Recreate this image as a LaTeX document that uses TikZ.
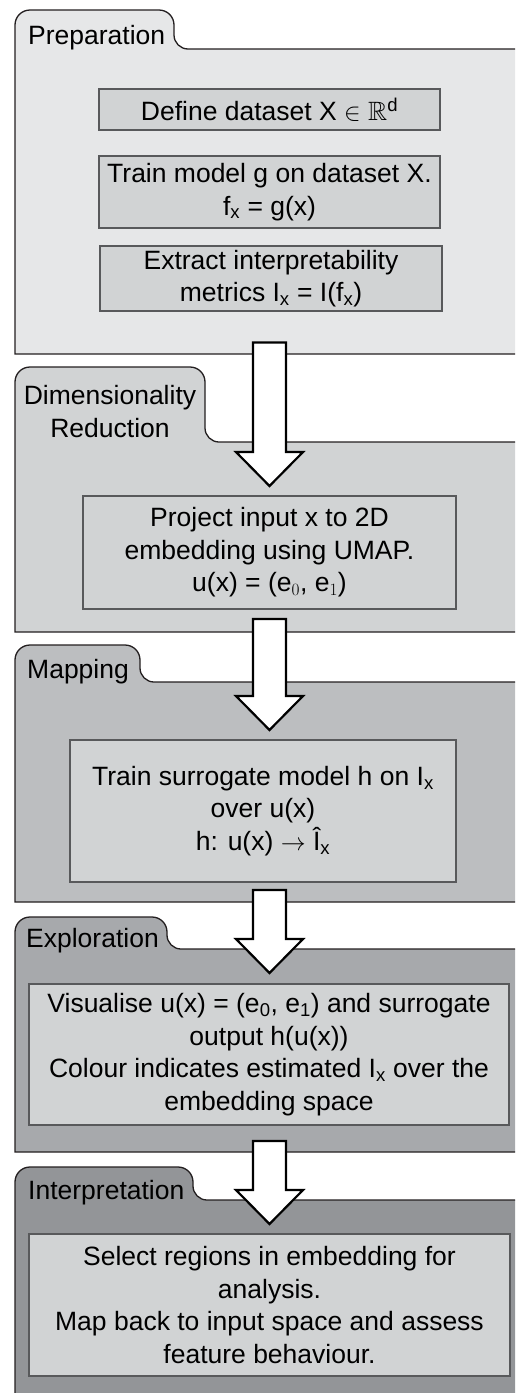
\documentclass[tikz,border=0pt]{standalone}
\usepackage{amssymb}
\usepackage{fontspec}
\setmainfont{Liberation Sans}
\usetikzlibrary{calc}
\definecolor{pA}{HTML}{E6E7E8}
\definecolor{pB}{HTML}{D1D3D4}
\definecolor{pC}{HTML}{BCBEC0}
\definecolor{pD}{HTML}{A7A9AC}
\definecolor{pE}{HTML}{939598}
\definecolor{boxfill}{HTML}{D1D3D4}
\definecolor{boxline}{HTML}{58595B}
\definecolor{panelline}{HTML}{231F20}
\tikzset{
  panel/.style={draw=panelline, line width=1.3pt},
  ibox/.style={draw=boxline, fill=boxfill, line width=2.6pt, align=center, inner sep=0pt,
     font=\fontsize{26.5}{32.5}\selectfont},
  tablabel/.style={inner sep=0pt, font=\fontsize{26.5}{32.5}\selectfont},
  barrow/.style={draw=black, fill=white, line width=2.2pt, line join=miter},
}
\newcommand\tabpanel[5]{%
 \draw[panel, fill=#5] (15,#4) -- (15,{#1+15}) .. controls (15,{#1+6.7}) and (21.7,#1) .. (30,#1)
 -- ({#2-15},#1) .. controls ({#2-6.7},#1) and (#2,{#1+6.7}) .. (#2,{#1+15})
 -- (#2,{#3-14}) .. controls (#2,{#3-6.3}) and ({#2+6.3},#3) .. ({#2+14},#3)
 -- (530,#3) -- (530,#4) -- cycle;}
\newcommand\blockarrow[2]{%
 \draw[barrow] let \p1=(#1), \p2=(#2) in
  (\x1-16.5pt,\y1) -- (\x1+16.5pt,\y1) -- (\x1+16.5pt,\y2+34pt) -- (\x1+33.5pt,\y2+34pt)
  -- (\x2,\y2) -- (\x1-33.5pt,\y2+34pt) -- (\x1-16.5pt,\y2+34pt) -- cycle;}
\begin{document}
\begin{tikzpicture}[x=1pt,y=-1pt]
\useasboundingbox (0,0) rectangle (515,1393);
\clip (0,0) rectangle (515,1393);
% panels
\tabpanel{10}{174}{49}{354}{pA}
\tabpanel{367}{205}{442}{632}{pB}
\tabpanel{645}{140}{682}{902}{pC}
\tabpanel{917}{167}{949}{1152}{pD}
\tabpanel{1167}{193}{1200}{1400}{pE}
% tab labels
\node[tablabel, anchor=base west] (l1) at (28,44) {Preparation};
\node[tablabel, anchor=base, align=center] (l2) at (110,437) {Dimensionality\\Reduction};
\node[tablabel, anchor=base west] (l3) at (27,678) {Mapping};
\node[tablabel, anchor=base west] (l4) at (26,947) {Exploration};
\node[tablabel, anchor=base west] (l5) at (28,1199) {Interpretation};
% boxes
\node[ibox, minimum width=341, minimum height=41] (b1) at (269.5,109.5)
  {Define dataset X $\in$ $\mathbb{R}$\textsuperscript{d}};
\node[ibox, minimum width=341, minimum height=72] (b2) at (269.5,192)
  {Train model g on dataset X.\\f\textsubscript{x} = g(x)};
\node[ibox, minimum width=342, minimum height=65] (b3) at (271,278.5)
  {Extract interpretability\\metrics I\textsubscript{x} = I(f\textsubscript{x})};
\node[ibox, minimum width=373, minimum height=113] (b4) at (269.5,552.5)
  {Project input x to 2D\\embedding using UMAP.\\u(x) = (e$_0$, e$_1$)};
\node[ibox, minimum width=386, minimum height=142] (b5) at (263,811)
  {Train surrogate model h on I\textsubscript{x}\\over u(x)\\h: u(x) $\rightarrow$ Î\textsubscript{x}};
\node[ibox, minimum width=480, minimum height=141] (b6) at (269,1054.5)
  {Visualise u(x) = (e\textsubscript{0}, e\textsubscript{1}) and surrogate\\output h(u(x))\\Colour indicates estimated I\textsubscript{x} over the\\embedding space};
\node[ibox, minimum width=481, minimum height=142] (b7) at (269.5,1305)
  {Select regions in embedding for\\analysis.\\Map back to input space and assess\\feature behaviour.};
% arrows
\coordinate (a1s) at (269.5,342.5);
\coordinate (a1e) at (269.5,486);
\coordinate (a2s) at (269.5,619);
\coordinate (a2e) at (269.5,730);
\coordinate (a3s) at (269.5,890);
\coordinate (a3e) at (269.5,973);
\coordinate (a4s) at (269.5,1141);
\coordinate (a4e) at (269.5,1224);
\blockarrow{a1s}{a1e}
\blockarrow{a2s}{a2e}
\blockarrow{a3s}{a3e}
\blockarrow{a4s}{a4e}
\end{tikzpicture}
\end{document}
